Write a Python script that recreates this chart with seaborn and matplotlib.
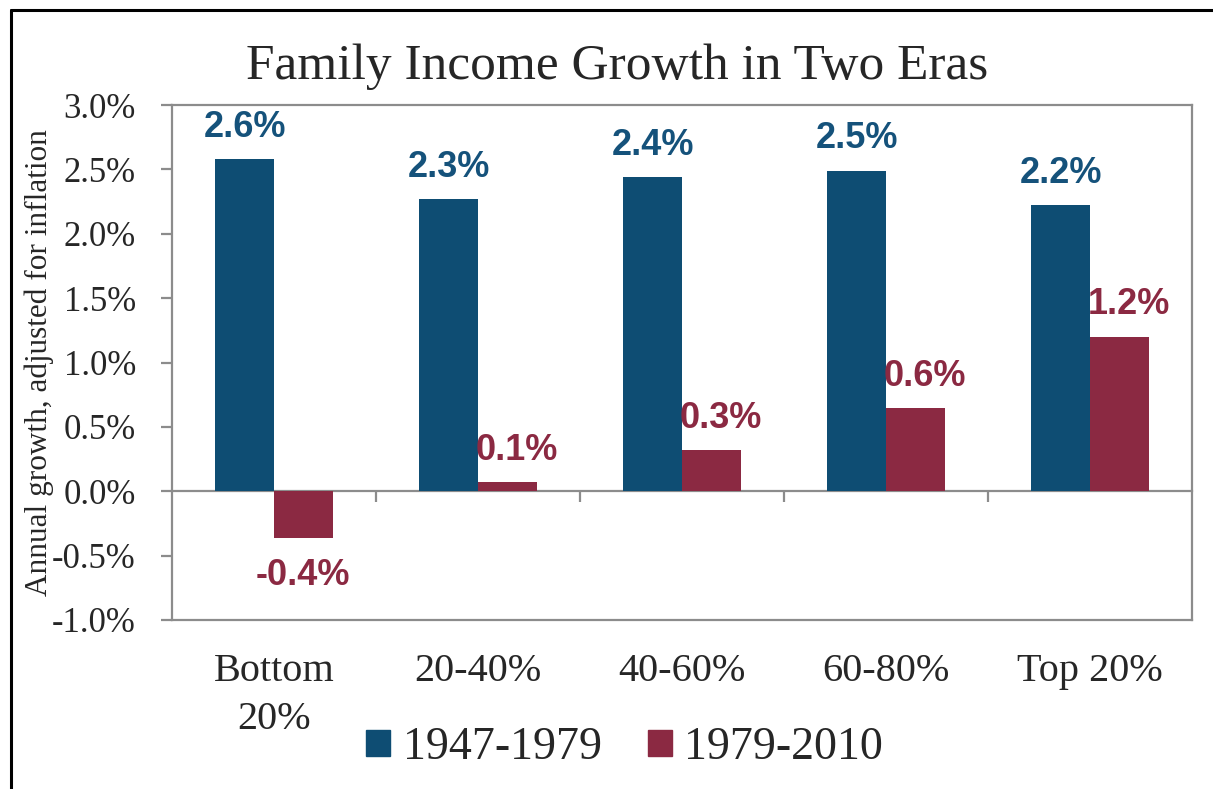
import pandas as pd
import matplotlib
matplotlib.use("Agg")
import matplotlib.pyplot as plt
from matplotlib.lines import Line2D
from matplotlib.ticker import FuncFormatter
import seaborn as sns

# Data (annual growth, % per year)
groups = ["Bottom\n20%", "20-40%", "40-60%", "60-80%", "Top 20%"]
era_1 = [2.58, 2.27, 2.44, 2.49, 2.22]      # 1947-1979
era_2 = [-0.36, 0.07, 0.32, 0.645, 1.20]   # 1979-2010
eras = ["1947-1979", "1979-2010"]
colors = {"1947-1979": "#0E4D73", "1979-2010": "#8B2942"}
label_colors = {"1947-1979": "#15527B", "1979-2010": "#8B2942"}

df = pd.DataFrame({
    "group": groups * 2,
    "growth": era_1 + era_2,
    "era": [eras[0]] * len(groups) + [eras[1]] * len(groups),
})

sns.set_style("white")
serif = ["Liberation Serif", "DejaVu Serif"]
sans = ["Liberation Sans", "DejaVu Sans"]
plt.rcParams["font.family"] = serif

fig = plt.figure(figsize=(12.13, 7.89), dpi=100)
ax = fig.add_axes([0.1418, 0.2142, 0.8409, 0.6527])

sns.barplot(data=df, x="group", y="growth", hue="era", palette=colors,
            width=0.575, gap=0, dodge=True, ax=ax, edgecolor="none",
            saturation=1)

ax.set_ylim(-1.0, 3.0)
ax.set_xlim(-0.5, len(groups) - 0.5)
ax.set_yticks([-1.0, -0.5, 0.0, 0.5, 1.0, 1.5, 2.0, 2.5, 3.0])
ax.yaxis.set_major_formatter(FuncFormatter(lambda v, p: f"{v:.1f}%"))

frame = "#8C8C8C"
for s in ax.spines.values():
    s.set_color(frame)
    s.set_linewidth(1.6)
    s.set_visible(True)

ax.tick_params(axis="y", direction="out", length=8, width=1.6, color=frame,
               labelsize=25, pad=18, left=True)
ax.tick_params(axis="x", length=0, labelsize=29, pad=24)
for t in ax.get_xticklabels():
    t.set_linespacing(1.38)

ax.set_xlabel("")
ax.set_ylabel("Annual growth, adjusted for inflation", fontsize=22.5)
ax.yaxis.set_label_coords(-0.116, 0.5)

# zero line with category separators hanging below it
zero = ax.secondary_xaxis(0.25)
zero.spines["bottom"].set_color(frame)
zero.spines["bottom"].set_linewidth(1.6)
zero.set_xticks([i + 0.5 for i in range(len(groups) - 1)])
zero.set_xticklabels([])
zero.tick_params(axis="x", direction="out", length=8, width=1.6, color=frame)

# value labels
for era, cont in zip(eras, ax.containers):
    for bar, v in zip(cont.patches, cont.datavalues):
        x = bar.get_x() + bar.get_width() / 2
        if v >= 0:
            dx = 7 if era == eras[1] else 0
            off = (dx, 23)
        else:
            off = (0, -27)
        ax.annotate(f"{v:.1f}%", (x, v), xytext=off, textcoords="offset points",
                    ha="center", va="center", fontsize=26, fontweight="bold",
                    family=sans, color=label_colors[era])

ax.legend_.remove()
handles = [plt.Rectangle((0, 0), 1, 1, color=colors[e]) for e in eras]
fig.legend(handles, eras, loc="center", bbox_to_anchor=(0.515, 0.052),
           ncol=2, frameon=False, fontsize=33, handlelength=0.52,
           handleheight=0.52, handletextpad=0.28, columnspacing=1.0)

fig.suptitle("Family Income Growth in Two Eras", fontsize=37,
             x=0.509, y=0.945, va="top")

# outer border (left and top)
fig.add_artist(Line2D([0.009, 0.009], [0.0, 0.987], color="black", lw=2.2))
fig.add_artist(Line2D([0.009, 1.0], [0.987, 0.987], color="black", lw=2.2))

fig.savefig("out.png", dpi=100)
